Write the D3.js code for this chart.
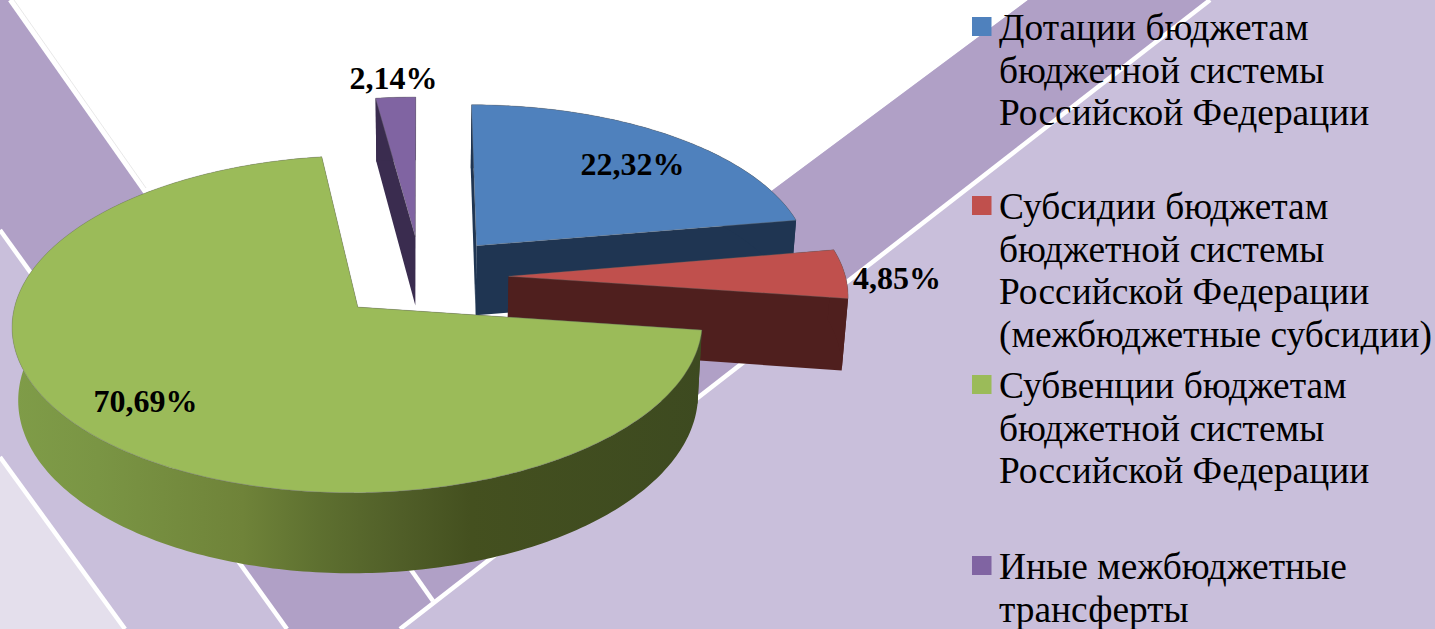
<!DOCTYPE html>
<html>
<head>
<meta charset="utf-8">
<script src="https://cdn.jsdelivr.net/npm/d3@7"></script>
<style>
    html, body { margin: 0; padding: 0; background: #c9bfdb; overflow: hidden; }
    svg { display: block; }
</style>
</head>
<body>
<div id="chart"></div>
<script>
const categories = ["Дотации бюджетам бюджетной системы Российской Федерации",
    "Субсидии бюджетам бюджетной системы Российской Федерации (межбюджетные субсидии)",
    "Субвенции бюджетам бюджетной системы Российской Федерации",
    "Иные межбюджетные трансферты"];
const values = [22.32, 4.85, 70.69, 2.14];
const valueLabels = ["22,32%", "4,85%", "70,69%", "2,14%"];
const legendLines = [
    ["Дотации бюджетам", "бюджетной системы", "Российской Федерации"],
    ["Субсидии бюджетам", "бюджетной системы", "Российской Федерации", "(межбюджетные субсидии)"],
    ["Субвенции бюджетам", "бюджетной системы", "Российской Федерации"],
    ["Иные межбюджетные", "трансферты"]
];
const topColors = ["#4f81bd", "#c0504d", "#9bbb59", "#8064a2"];
const wallColors = ["#1f3552", "#4f1f1e", "url(#greenWall)", "#3a2c4f"];

const width = 1435, height = 629;

// 3d pie camera, fitted by eye against the picture
const cx = 421, cy = 277, rx = 337, ry = 160.8;
const persp = 0.0995, depth = 71, baseScale = 0.985, explode = 0.26;

const svg = d3.select("#chart").append("svg")
    .attr("width", width)
    .attr("height", height);

const grad = svg.append("defs").append("linearGradient")
    .attr("id", "greenWall")
    .attr("gradientUnits", "userSpaceOnUse")
    .attr("x1", 15).attr("x2", 705).attr("y1", 0).attr("y2", 0);
[[0, "#7f9c48"], [0.12, "#7a9544"], [0.33, "#6f8339"], [0.44, "#5e7030"], [0.56, "#505e28"], [0.66, "#44501f"], [1, "#3d4a20"]]
    .forEach(s => grad.append("stop").attr("offset", s[0]).attr("stop-color", s[1]));

// background slide decoration
const bg = svg.append("g");
const polyLine = d3.line();
bg.append("rect").attr("width", width).attr("height", height).attr("fill", "#c9bfdb");
bg.append("path").attr("d", polyLine([[10, 0], [1028, 0], [360, 497]]) + "Z").attr("fill", "#ffffff");
bg.append("path").attr("d", polyLine([[1028, 0], [1210, 0], [433, 603], [360, 497]]) + "Z").attr("fill", "#b0a0c6");
bg.append("path").attr("d", polyLine([[0, 0], [10, 0], [433, 601], [400, 629], [287, 629], [0, 230]]) + "Z").attr("fill", "#b0a0c6");
bg.append("path").attr("d", polyLine([[0, 457], [125, 629], [0, 629]]) + "Z").attr("fill", "#e4dfec");
[[[10, 0], [433, 601]], [[0, 230], [287, 629]], [[0, 457], [125, 629]], [[1210, 0], [400, 629]]].forEach(l => {
    bg.append("path").attr("d", polyLine(l)).attr("stroke", "#ffffff").attr("stroke-width", 4.5).attr("fill", "none");
});
// faint hairline next to the top left stripe
bg.append("path").attr("d", polyLine([[14, 0], [146, 188]])).attr("stroke", "#e2e2e2").attr("stroke-width", 0.8).attr("fill", "none");

// world coords on the pie plane -> screen
function project(u, v, lower) {
    const s = 1 / (1 - persp * v);
    let x = rx * u * s, y = ry * v * s;
    if (lower) {
        x *= baseScale;
        y += depth * s;
    }
    return [cx + x, cy + y];
}

function rimPoints(slice, lower) {
    const mid = (slice.startAngle + slice.endAngle) / 2;
    const ox = explode * Math.sin(mid), oy = -explode * Math.cos(mid);
    const n = Math.ceil((slice.endAngle - slice.startAngle) * 60);
    const pts = d3.range(n + 1).map(i => {
        const a = slice.startAngle + (slice.endAngle - slice.startAngle) * i / n;
        return project(ox + Math.sin(a), oy - Math.cos(a), lower);
    });
    return { pts, apex: project(ox, oy, lower) };
}

const pie = d3.pie().sort(null).startAngle(0).endAngle(2 * Math.PI);
const slices = pie(values);
const paintOrder = [3, 0, 1, 2];   // back to front

const line = d3.line();
const plot = svg.append("g");

paintOrder.forEach(i => {
    const up = rimPoints(slices[i], false);
    const low = rimPoints(slices[i], true);
    const g = plot.append("g");
    const last = up.pts.length - 1;
    // radial walls then the rim
    g.append("path").attr("d", line([up.apex, up.pts[0], low.pts[0], low.apex]) + "Z").attr("fill", wallColors[i]);
    g.append("path").attr("d", line([up.apex, up.pts[last], low.pts[last], low.apex]) + "Z").attr("fill", wallColors[i]);
    g.append("path").attr("d", line(up.pts.concat(low.pts.slice().reverse())) + "Z").attr("fill", wallColors[i]);
    // top face
    g.append("path").attr("d", line([up.apex].concat(up.pts)) + "Z")
        .attr("fill", topColors[i])
        .attr("stroke", "#6b6b6b")
        .attr("stroke-opacity", 0.45)
        .attr("stroke-width", 0.8);
});

// data labels
const labelSpots = [[632.5, 175], [897, 289], [145.5, 412], [393.5, 89]];
svg.append("g").selectAll("text")
    .data(valueLabels)
    .join("text")
    .attr("x", (d, i) => labelSpots[i][0])
    .attr("y", (d, i) => labelSpots[i][1])
    .attr("text-anchor", "middle")
    .attr("font-family", "'Liberation Serif', serif")
    .attr("font-weight", "bold")
    .attr("font-size", 32)
    .attr("fill", "#000")
    .text(d => d);

// legend
const legendY = [40, 219, 398, 579];
const lineStep = 42.7;
const legend = svg.append("g");
legendLines.forEach((lines, i) => {
    legend.append("rect")
        .attr("x", 972).attr("y", legendY[i] - 23)
        .attr("width", 19.5).attr("height", 19)
        .attr("fill", topColors[i]);
    legend.append("text")
        .attr("font-family", "'Liberation Serif', serif")
        .attr("font-size", 37.4)
        .attr("fill", "#000")
        .selectAll("tspan")
        .data(lines)
        .join("tspan")
        .attr("x", 999)
        .attr("y", (d, j) => legendY[i] + j * lineStep)
        .text(d => d);
});
</script>
</body>
</html>
